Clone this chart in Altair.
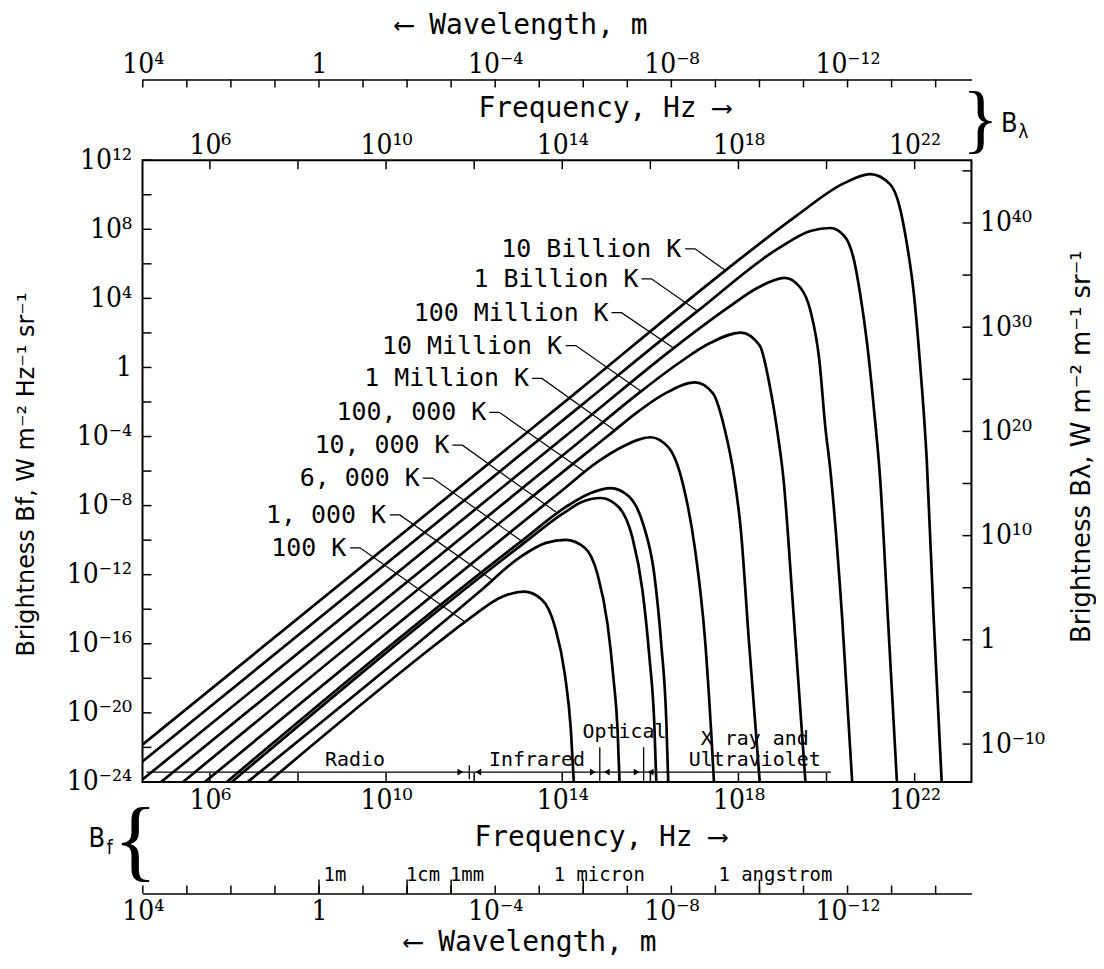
import altair as alt
import pandas as pd

# ---------------- axis ranges (log10 units) ----------------
F_EXP = [4.47, 23.29]          # frequency, Hz (plot edges)
B_EXP = [-24, 12]              # brightness B_f
BL_EXP = [-13.63, 46.02]       # brightness B_lambda (right axis)
LOG_C = 8.4768                 # log10 of the speed of light, m/s

# ---------------- tick / label lists ----------------
F_TICK_EXP = [6, 8, 10, 12, 14, 16, 18, 20, 22]
F_LABEL_EXP = [6, 10, 14, 18, 22]
B_TICK_EXP = list(range(-24, 13, 2))
B_LABEL_EXP = [12, 8, 4, 0, -4, -8, -12, -16, -20, -24]
BL_TICK_EXP = [-10, -5, 0, 5, 10, 15, 20, 25, 30, 35, 40, 45]
BL_LABEL_EXP = [40, 30, 20, 10, 0, -10]
WL_TICK_EXP = [4, 3, 2, 1, 0, -1, -2, -3, -4, -5, -6, -7, -8, -9, -10, -11, -12, -13, -14]
WL_LABEL_EXP = [4, 0, -4, -8, -12]
WL_MARK_TEXT = ["1m", "1cm", "1mm", "1 micron", "1 angstrom"]
WL_MARK_EXP = [0, -2, -3, -6, -10]

# ---------------- black-body curves ----------------
# log10 frequency (Hz) and log10 brightness (W m^-2 Hz^-1 sr^-1)
LF_100K = [7.332, 11.214, 11.892, 12.637, 13.133, 13.539, 13.833, 14.059, 14.194, 14.262]
LB_100K = [-24, -15.87, -14.544, -13.274, -12.985, -13.446, -15.004, -17.774, -20.948, -24]
LF_1000K = [6.858, 12.117, 13.020, 13.630, 14.081, 14.510, 14.803, 15.029, 15.165, 15.255, 15.300]
LB_1000K = [-24, -12.99, -11.023, -10.157, -9.984, -10.446, -12.004, -14.889, -18.063, -20.948, -24]
LF_6000K = [6.497, 13.020, 14.036, 14.442, 14.871, 15.278, 15.594, 15.819, 15.977, 16.090, 16.135]
LB_6000K = [-24, -10.39, -8.426, -7.792, -7.561, -8.081, -9.869, -12.870, -16.735, -20.660, -24]
LF_1E4K = [6.384, 13.020, 14.149, 14.646, 15.097, 15.503, 15.842, 16.090, 16.248, 16.361, 16.406]
LB_1E4K = [-24, -10.16, -7.965, -7.273, -6.984, -7.446, -9.119, -12.004, -16.043, -20.371, -24]
LF_1E5K = [5.887, 13.923, 14.826, 15.345, 16.000, 16.406, 16.745, 17.016, 17.241, 17.377, 17.444]
LB_1E5K = [-24, -7.273, -5.426, -4.618, -4.041, -4.618, -6.811, -10.561, -15.754, -20.948, -24]
LF_1E6K = [5.391, 14.375, 15.052, 15.729, 16.338, 17.016, 17.422, 17.693, 17.896, 18.054, 18.235, 18.483]
LB_1E6K = [-24, -5.31, -3.926, -2.541, -1.502, -0.867, -1.502, -3.637, -6.234, -9.407, -15.754, -24]
LF_1E7K = [4.894, 14.375, 15.729, 16.632, 17.377, 18.054, 18.483, 18.709, 18.889, 19.025, 19.228, 19.521]
LB_1E7K = [-24, -4.33, -1.502, 0.228, 1.440, 2.017, 1.267, -1.040, -3.810, -6.522, -13.446, -24]
LF_1E8K = [4.47, 14.375, 16.632, 17.761, 18.438, 19.047, 19.408, 19.634, 19.837, 19.973, 20.086, 20.357, 20.582]
LB_1E8K = [-23.86, -3.35, 1.325, 3.460, 4.614, 5.191, 4.614, 3.287, 0.402, -3.464, -5.945, -14.60, -24]
LF_1E9K = [4.47, 14.375, 17.083, 18.889, 19.634, 20.086, 20.402, 20.627, 20.763, 20.921, 21.079, 21.214, 21.395, 21.598]
LB_1E9K = [-22.82, -2.31, 3.287, 6.865, 7.903, 8.076, 7.615, 6.172, 4.268, 1.383, -2.483, -6.349, -14.60, -24]
LF_1E10K = [4.47, 14.375, 17.693, 19.300, 20.402, 20.989, 21.440, 21.643, 21.824, 21.982, 22.117, 22.275, 22.433, 22.614]
LB_1E10K = [-21.84, -1.33, 5.595, 8.750, 10.673, 11.192, 10.615, 9.461, 7.153, 4.268, 0.402, -5.369, -14.60, -24]

# ---------------- curve labels and leaders ----------------
LABEL_TEXT = ["10 Billion K", "1 Billion K", "100 Million K", "10 Million K", "1 Million K",
              "100, 000 K", "10, 000 K", "6, 000 K", "1, 000 K", "100 K"]
LABEL_LF = [16.700, 15.729, 15.052, 13.991, 13.246, 12.275, 11.440, 10.763, 9.996, 9.093]
LABEL_LB = [6.865, 5.133, 3.172, 1.267, -0.637, -2.598, -4.503, -6.407, -8.541, -10.445]
LEADER_START_LF = [16.790, 15.797, 15.119, 14.081, 13.314, 12.343, 11.508, 10.831, 10.086, 9.183]
LEADER_ELBOW_LF = [17.016, 16.023, 15.345, 14.307, 13.539, 12.569, 11.734, 11.056, 10.312, 9.409]
LEADER_END_LF = [17.715, 17.061, 16.542, 15.797, 15.187, 14.510, 13.855, 13.133, 12.433, 11.779]
LEADER_END_LB = [5.595, 3.287, 1.094, -1.387, -3.637, -6.060, -8.368, -10.157, -12.349, -14.715]

# ---------------- spectral bands ----------------
BAND_TEXT = ["Radio", "Infrared", "Optical", "X ray and", "Ultraviolet"]
BAND_LF = [9.296, 13.427, 15.413, 18.370, 18.370]
BAND_LB = [-22.74, -22.74, -21.12, -21.52, -22.74]
BAND_LINE_LF = [4.56, 20.10]
BAND_LINE_LB = -23.43
BOUND_LF = [11.889, 14.852, 15.847]
BOUND_TOP_LB = [-23.03, -21.99, -21.99]
BOUND_BOT_LB = [-23.84, -24.0, -24.0]
ARROW_LF = [11.686, 12.093, 14.694, 15.011, 15.689, 16.006]
ARROW_SHAPE = ["triangle-right", "triangle-left", "triangle-right", "triangle-left",
               "triangle-right", "triangle-left"]

W, H = 832, 624
SUP = str.maketrans("0123456789-", "⁰¹²³⁴⁵⁶⁷⁸⁹⁻")


def pow_label(e):
    return "1" if e == 0 else "10" + str(e).translate(SUP)


def label_expr(exps):
    expr = "''"
    for e in exps:
        expr = f"round(log(datum.value)/LN10) == {e} ? '{pow_label(e)}' : " + expr
    return expr


def p10(v):
    return [10.0 ** e for e in v]


XF = alt.Scale(type="log", domain=[10 ** F_EXP[0], 10 ** F_EXP[1]], nice=False)
YB = alt.Scale(type="log", domain=[10.0 ** B_EXP[0], 10.0 ** B_EXP[1]], nice=False)
YL = alt.Scale(type="log", domain=[10 ** BL_EXP[0], 10 ** BL_EXP[1]], nice=False)
XL = alt.Scale(type="log", domain=[10 ** (LOG_C - F_EXP[1]), 10 ** (LOG_C - F_EXP[0])],
               nice=False, reverse=True)

LABEL_FONT = "DejaVu Serif Condensed, DejaVu Serif"
MONO = "DejaVu Sans Mono"

# ---------------- data tables ----------------
curve_list = [("100 K", LF_100K, LB_100K), ("1000 K", LF_1000K, LB_1000K),
              ("6000 K", LF_6000K, LB_6000K), ("1e4 K", LF_1E4K, LB_1E4K),
              ("1e5 K", LF_1E5K, LB_1E5K), ("1e6 K", LF_1E6K, LB_1E6K),
              ("1e7 K", LF_1E7K, LB_1E7K), ("1e8 K", LF_1E8K, LB_1E8K),
              ("1e9 K", LF_1E9K, LB_1E9K), ("1e10 K", LF_1E10K, LB_1E10K)]
rows = []
for name, lfs, lbs in curve_list:
    for i, (a, b) in enumerate(zip(lfs, lbs)):
        rows.append({"T": name, "i": i, "f": 10 ** a, "B": 10 ** b})
df_curves = pd.DataFrame(rows)

lrows = []
for k in range(len(LABEL_TEXT)):
    pts = [(LEADER_START_LF[k], LABEL_LB[k]), (LEADER_ELBOW_LF[k], LABEL_LB[k]),
           (LEADER_END_LF[k], LEADER_END_LB[k])]
    for i, (a, b) in enumerate(pts):
        lrows.append({"k": k, "i": i, "f": 10 ** a, "B": 10 ** b})
df_leaders = pd.DataFrame(lrows)
df_labels = pd.DataFrame({"t": LABEL_TEXT, "f": p10(LABEL_LF), "B": p10(LABEL_LB)})

# ---------------- layers ----------------
curves = alt.Chart(df_curves).mark_line(
    color="black", strokeWidth=2.7, interpolate="monotone", clip=True
).encode(
    x=alt.X("f:Q", scale=XF, axis=None),
    y=alt.Y("B:Q", scale=YB, axis=None),
    detail="T:N", order="i:Q",
)

leaders = alt.Chart(df_leaders).mark_line(color="black", strokeWidth=1.2).encode(
    x=alt.X("f:Q", scale=XF, axis=None),
    y=alt.Y("B:Q", scale=YB, axis=None),
    detail="k:N", order="i:Q",
)

labels = alt.Chart(df_labels).mark_text(
    align="right", baseline="middle", font=MONO, fontSize=25, color="black"
).encode(
    x=alt.X("f:Q", scale=XF, axis=None),
    y=alt.Y("B:Q", scale=YB, axis=None),
    text="t:N",
)

band_text = alt.Chart(pd.DataFrame({"t": BAND_TEXT, "f": p10(BAND_LF), "B": p10(BAND_LB)})).mark_text(
    align="center", baseline="middle", font=MONO, fontSize=20, color="black"
).encode(
    x=alt.X("f:Q", scale=XF, axis=None),
    y=alt.Y("B:Q", scale=YB, axis=None),
    text="t:N",
)

band_line = alt.Chart(pd.DataFrame({"f": [10 ** BAND_LINE_LF[0]], "f2": [10 ** BAND_LINE_LF[1]],
                                    "B": [10 ** BAND_LINE_LB]})).mark_rule(
    color="black", strokeWidth=1.3
).encode(
    x=alt.X("f:Q", scale=XF, axis=None), x2="f2:Q",
    y=alt.Y("B:Q", scale=YB, axis=None),
)

bounds = alt.Chart(pd.DataFrame({"f": p10(BOUND_LF), "B": p10(BOUND_TOP_LB),
                                 "B2": p10(BOUND_BOT_LB)})).mark_rule(
    color="black", strokeWidth=1.3
).encode(
    x=alt.X("f:Q", scale=XF, axis=None),
    y=alt.Y("B:Q", scale=YB, axis=None), y2="B2:Q",
)

arrows = alt.Chart(pd.DataFrame({"f": p10(ARROW_LF), "B": [10 ** BAND_LINE_LB] * len(ARROW_LF),
                                 "s": ARROW_SHAPE})).mark_point(
    filled=True, color="black", size=45, opacity=1
).encode(
    x=alt.X("f:Q", scale=XF, axis=None),
    y=alt.Y("B:Q", scale=YB, axis=None),
    shape=alt.Shape("s:N", scale=None),
)

ax_common = dict(ticks=False, tickSize=0, grid=False, labelFlush=False,
                 labelFont=LABEL_FONT, labelFontSize=28, labelColor="black",
                 titleColor="black", titleFontWeight="normal")

left_ax = alt.Chart(pd.DataFrame({"v": p10(B_TICK_EXP)})).mark_rule(color="black", strokeWidth=1.5).encode(
    y=alt.Y("v:Q", scale=YB, axis=alt.Axis(
        orient="left", values=p10(B_LABEL_EXP), labelExpr=label_expr(B_LABEL_EXP),
        domain=False, labelPadding=11,
        title="Brightness Bf, W m⁻² Hz⁻¹ sr⁻¹", titleFont="DejaVu Sans", titleFontSize=24,
        titleX=-116, titleY=315, titleAngle=270, titleBaseline="middle", titleAlign="center",
        **ax_common)),
    x=alt.value(0), x2=alt.value(9),
)

right_ax = alt.Chart(pd.DataFrame({"v": p10(BL_TICK_EXP)})).mark_rule(color="black", strokeWidth=1.5).encode(
    y=alt.Y("v:Q", scale=YL, axis=alt.Axis(
        orient="right", values=p10(BL_LABEL_EXP), labelExpr=label_expr(BL_LABEL_EXP),
        domain=False, labelPadding=8,
        title="Brightness Bλ, W m⁻² m⁻¹ sr⁻¹", titleFont="DejaVu Sans", titleFontSize=26,
        titleX=110, titleY=287, titleAngle=270, titleBaseline="middle", titleAlign="center",
        **ax_common)),
    x=alt.value(W), x2=alt.value(W - 9),
)

top_f = alt.Chart(pd.DataFrame({"v": p10(F_TICK_EXP)})).mark_rule(color="black", strokeWidth=1.5).encode(
    x=alt.X("v:Q", scale=XF, axis=alt.Axis(
        orient="top", values=p10(F_LABEL_EXP), labelExpr=label_expr(F_LABEL_EXP),
        domain=False, labelPadding=1,
        title="Frequency, Hz ⟶", titleFont=MONO, titleFontSize=28,
        titleX=463, titleY=-44, titleBaseline="alphabetic", titleAlign="center",
        **ax_common)),
    y=alt.value(0), y2=alt.value(9),
)

bot_f = alt.Chart(pd.DataFrame({"v": p10(F_TICK_EXP)})).mark_rule(color="black", strokeWidth=1.5).encode(
    x=alt.X("v:Q", scale=XF, axis=alt.Axis(
        orient="bottom", values=p10(F_LABEL_EXP), labelExpr=label_expr(F_LABEL_EXP),
        domain=False, labelPadding=5,
        title="Frequency, Hz ⟶", titleFont=MONO, titleFontSize=28,
        titleX=459, titleY=64, titleBaseline="alphabetic", titleAlign="center",
        **ax_common)),
    y=alt.value(H), y2=alt.value(H - 9),
)

top_wl = alt.Chart(pd.DataFrame({"v": p10(WL_TICK_EXP)})).mark_rule(color="black", strokeWidth=1.5).encode(
    x=alt.X("v:Q", scale=XL, axis=alt.Axis(
        orient="top", offset=81, values=p10(WL_LABEL_EXP), labelExpr=label_expr(WL_LABEL_EXP),
        domain=True, domainColor="black", domainWidth=1.6, labelPadding=1,
        title="⟵ Wavelength, m", titleFont=MONO, titleFontSize=28,
        titleX=380, titleY=-46, titleBaseline="alphabetic", titleAlign="center",
        **ax_common)),
    y=alt.value(-81), y2=alt.value(-73),
)

BOT_WL_Y = H + 112
bot_wl = alt.Chart(pd.DataFrame({"v": p10(WL_TICK_EXP)})).mark_rule(color="black", strokeWidth=1.5).encode(
    x=alt.X("v:Q", scale=XL, axis=alt.Axis(
        orient="bottom", offset=112, values=p10(WL_LABEL_EXP), labelExpr=label_expr(WL_LABEL_EXP),
        domain=True, domainColor="black", domainWidth=1.6, labelPadding=4,
        title="⟵ Wavelength, m", titleFont=MONO, titleFontSize=28,
        titleX=389, titleY=57, titleBaseline="alphabetic", titleAlign="center",
        **ax_common)),
    y=alt.value(BOT_WL_Y), y2=alt.value(BOT_WL_Y - 8),
)

wl_marks_df = pd.DataFrame({"v": p10(WL_MARK_EXP), "t": WL_MARK_TEXT})
wl_mark_ticks = alt.Chart(wl_marks_df).mark_rule(color="black", strokeWidth=1.5).encode(
    x=alt.X("v:Q", scale=XL, axis=None),
    y=alt.value(BOT_WL_Y), y2=alt.value(BOT_WL_Y - 14),
)
wl_mark_text = alt.Chart(wl_marks_df).mark_text(
    font=MONO, fontSize=19, baseline="alphabetic", align="center", dx=16, color="black"
).encode(
    x=alt.X("v:Q", scale=XL, axis=None),
    y=alt.value(BOT_WL_Y - 13),
    text="t:N",
)

# braces with B_lambda / B_f tags
brace_df = pd.DataFrame({"t": ["}", "{"], "x": [841, -7], "y": [-39, 684], "s": [76, 92]})
braces = alt.Chart(brace_df).mark_text(font="Liberation Serif", color="black", baseline="middle",
                                       align="center").encode(
    x=alt.X("x:Q", scale=None), y=alt.Y("y:Q", scale=None), text="t:N",
    size=alt.Size("s:Q", scale=None),
)
tag_df = pd.DataFrame({"t": ["B", "λ", "B", "f"], "x": [870, 884, -46, -33],
                       "y": [-36, -28, 681, 690], "s": [27, 19, 27, 19]})
tags = alt.Chart(tag_df).mark_text(font="DejaVu Sans Condensed", color="black", baseline="middle",
                                   align="center").encode(
    x=alt.X("x:Q", scale=None), y=alt.Y("y:Q", scale=None), text="t:N",
    size=alt.Size("s:Q", scale=None),
)

chart = alt.layer(
    curves, leaders, labels, band_line, bounds, arrows, band_text,
    left_ax, right_ax, top_f, bot_f, top_wl, bot_wl, wl_mark_ticks, wl_mark_text,
    braces, tags,
).resolve_scale(
    x="independent", y="independent"
).properties(
    width=W, height=H,
    autosize=alt.AutoSizeParams(type="none"),
    padding={"left": 135, "top": 151, "right": 125, "bottom": 185},
    background="white",
).configure_view(
    stroke="black", strokeWidth=2
)

chart.save("out.html", embed_options={"renderer": "svg", "actions": False})
